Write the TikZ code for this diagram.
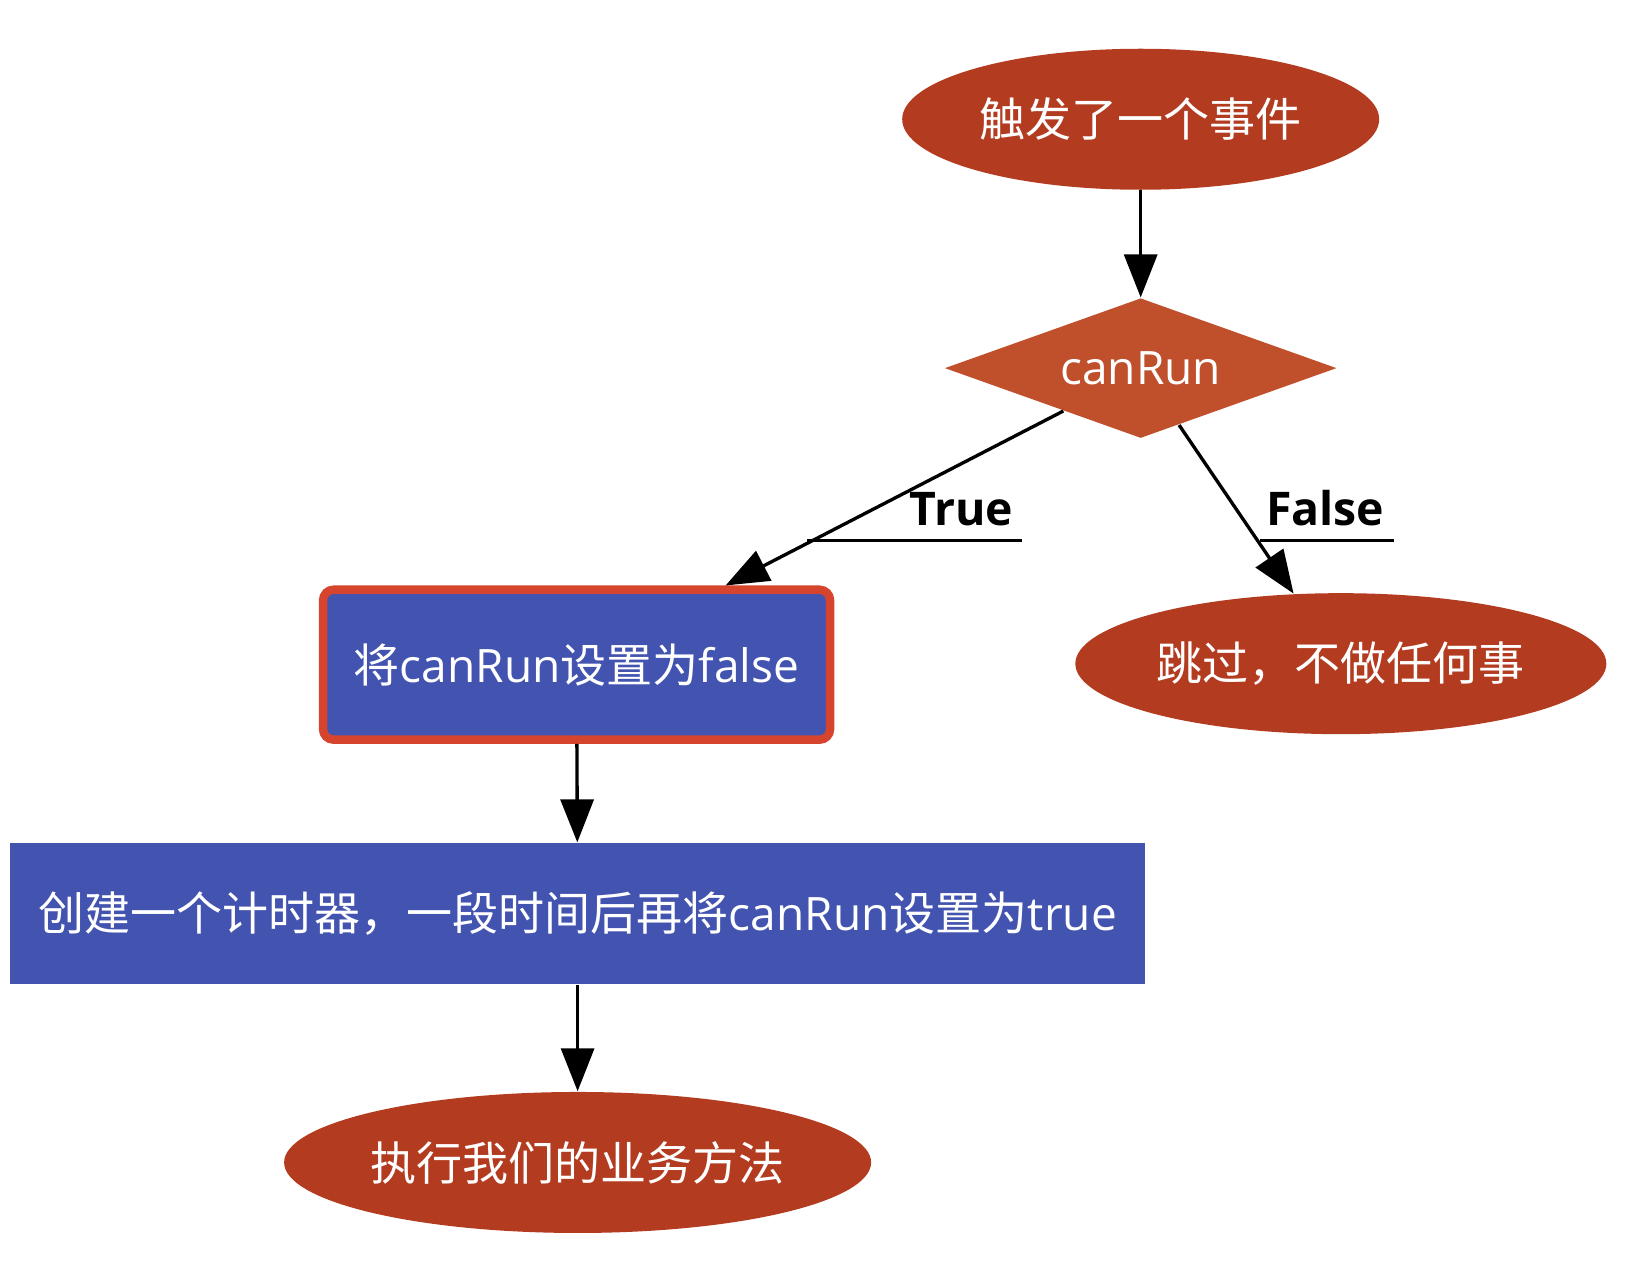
\documentclass[tikz,border=0pt]{standalone}
\usepackage{fontspec}
\setmainfont{Open Sans}
\newfontfamily\zhfont{Noto Sans CJK SC}
\usetikzlibrary{shapes.geometric, arrows.meta}
\definecolor{evtred}{HTML}{B33B1F}
\definecolor{decorange}{HTML}{C0502C}
\definecolor{stepblue}{HTML}{4353B0}
\definecolor{edgered}{HTML}{D6442E}
\newcommand{\zh}[1]{{\zhfont #1}}
\tikzset{
  event/.style={ellipse, fill=evtred, text=white, inner sep=0pt, minimum height=1.41cm},
  check/.style={diamond, fill=decorange, text=white, aspect=2.8, inner sep=0pt, minimum width=3.92cm, minimum height=1.40cm},
  action/.style={rectangle, fill=stepblue, text=white, inner sep=0pt, minimum height=1.41cm},
  flow/.style={-{Triangle[length=4.3mm, width=3.3mm]}, line width=0.95pt},
  branch/.style={font=\fontsize{13.2}{16}\selectfont\bfseries, inner xsep=2.5pt, inner ysep=4pt},
}

\begin{document}
\begin{tikzpicture}[x=0.1037mm, y=-0.1037mm, every node/.style={font=\fontsize{13.1}{16}\selectfont}]
                      \useasboundingbox (0,0) rectangle (1568,1226);
                      \node[event, minimum width=4.77cm] (start) at (1100,115) {\zh{触发了一个事件}};
                      \node[check] (canrun) at (1100,355) {canRun};
                      \node[action, draw=edgered, line width=2.4pt, rounded corners=3pt, minimum width=5.07cm, minimum height=1.50cm] (setfalse) at (556,641) {\zh{将}canRun\zh{设置为}false};
                      \node[event, minimum width=5.31cm] (skip) at (1293,640) {\zh{跳过，不做任何事}};
                      \node[action, minimum width=11.35cm] (timer) at (557,881) {\zh{创建一个计时器，一段时间后再将}canRun\zh{设置为}true};
                      \node[event, minimum width=5.87cm] (biz) at (557,1121) {\zh{执行我们的业务方法}};
                      \draw[flow] (start) -- (canrun);
                      \draw[flow] (canrun.209) -- ([xshift=1.49cm]setfalse.north);
                      \draw[flow] (canrun.304) -- (skip.124);
                      \draw[flow] (setfalse) -- (timer);
                      \draw[flow] (timer) -- (biz);
                      \node[branch, anchor=south east] (truelab) at (986,521) {True};
                      \coordinate (truefoot) at (778,521);
                      \draw[line width=0.95pt] (truelab.south east) -- (truefoot);
                      \node[branch, anchor=south east] (falselab) at (1344,521) {False};
                      \coordinate (falsefoot) at (1215,521);
                      \draw[line width=0.95pt] (falselab.south east) -- (falsefoot);
                  \end{tikzpicture}
\end{document}
